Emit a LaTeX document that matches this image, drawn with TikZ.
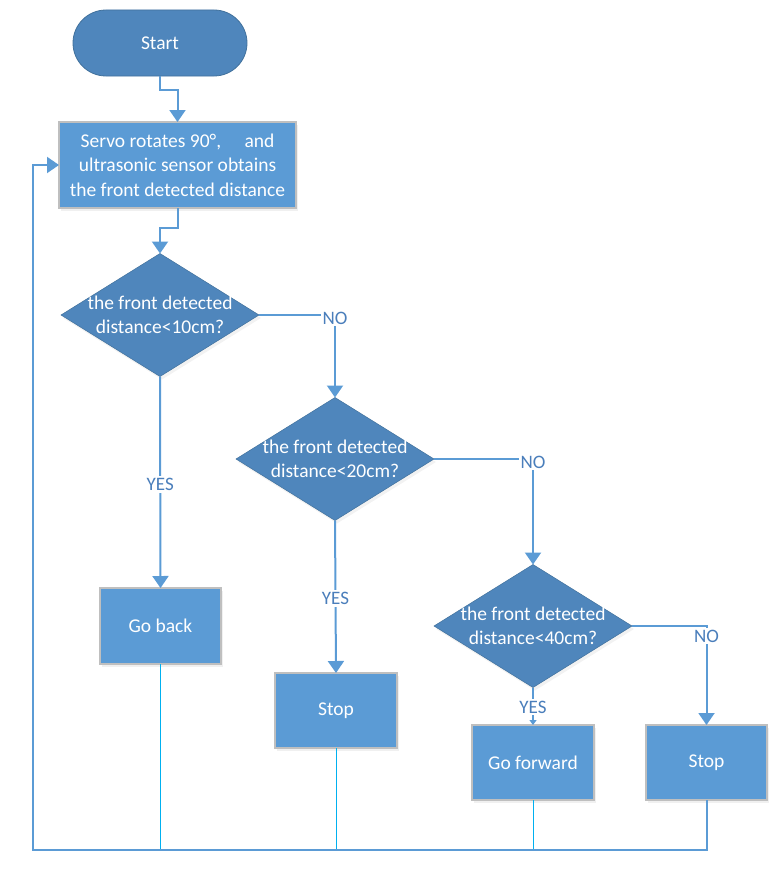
\documentclass[tikz,border=0pt]{standalone}
\usepackage{fontspec}
\setmainfont{Carlito}
\usetikzlibrary{arrows.meta,shapes.geometric,shadows}
\definecolor{boxfill}{HTML}{5B9BD5}
\definecolor{darkfill}{HTML}{4F86BC}
\definecolor{darkline}{HTML}{41719C}
\definecolor{boxline}{HTML}{BFBFBF}
\definecolor{conncol}{HTML}{5B9BD5}
\definecolor{retcol}{HTML}{00B0F0}
\definecolor{lblcol}{HTML}{4A7EBB}
\tikzset{
  every node/.style={font=\fontsize{19.5}{24.5}\selectfont},
  procbox/.style={rectangle, fill=boxfill, draw=boxline, line width=1.6pt, text=white,
    inner sep=0pt, outer sep=0pt, align=center,
    drop shadow={shadow xshift=2pt, shadow yshift=-3pt, opacity=0.12}},
  termbox/.style={rectangle, rounded corners=33pt, fill=darkfill, draw=darkline, line width=0.8pt,
    text=white, minimum width=174pt, minimum height=66pt, inner sep=0pt, outer sep=0pt},
  dia/.style={diamond, fill=darkfill, draw=darkline, line width=0.5pt, inner sep=0pt, outer sep=0pt,
    minimum width=198pt, minimum height=123pt,
    drop shadow={shadow xshift=2pt, shadow yshift=-3pt, opacity=0.10}},
  diatext/.style={text=white, align=center, inner sep=0pt},
  conn/.style={draw=conncol, line width=2pt},
  arr/.style={conn, -{Triangle[length=12pt,width=16pt]}},
  smallarr/.style={conn, -{Triangle[length=5pt,width=7pt]}},
  ret/.style={draw=retcol, line width=1pt},
  lbl/.style={fill=white, text=lblcol, inner sep=2pt, font=\fontsize{19}{22}\selectfont},
}
\begin{document}
\begin{tikzpicture}[x=1pt,y=-1pt]
\useasboundingbox (0,0) rectangle (780,875);

% nodes
\node[termbox] (start) at (160,43) {Start};
\node[procbox, minimum width=237pt, minimum height=86pt] (servo) at (177.5,165)
  {Servo rotates 90°,\hspace{1.2em}and\\ultrasonic sensor obtains\\the front detected distance};
\node[dia] (d1) at (160,315) {};
\node[diatext] at (d1) {the front detected\\distance<10cm?};
\node[dia] (d2) at (335,459) {};
\node[diatext] at (d2) {the front detected\\distance<20cm?};
\node[dia] (d3) at (533,626) {};
\node[diatext] at (d3) {the front detected\\distance<40cm?};
\node[procbox, minimum width=121pt, minimum height=76pt] (gob) at (160.5,626) {Go back};
\node[procbox, minimum width=122pt, minimum height=75pt] (stop1) at (336,710.5) {Stop};
\node[procbox, minimum width=122pt, minimum height=75pt] (gof) at (533,762.5) {Go forward};
\node[procbox, minimum width=121pt, minimum height=75pt] (stop2) at (706.5,762.5) {Stop};

\coordinate (j1) at (160,90);
\coordinate (j2) at (160,228);
\coordinate (cl) at (33,850);

% connectors
\draw[arr] (start.south) -- (j1) -| (servo.north);
\draw[arr] (servo.south) |- (j2) -- (d1.north);
\draw[arr] (d1.east) -| node[lbl, yshift=-3pt]{NO} (d2.north);
\draw[arr] (d1.south) -- node[lbl, pos=0.51]{YES} (gob.north);
\draw[arr] (d2.east) -| node[lbl, yshift=-3pt]{NO} (d3.north);
\draw[arr] (d2.south) -- node[lbl, pos=0.51]{YES} (stop1.north);
\draw[arr] (d3.east) -| node[lbl, yshift=-10pt]{NO} (stop2.north);
\draw[smallarr] (d3.south) -- node[lbl, pos=0.52]{YES} (gof.north);

% return path
\draw[ret] (gob.south) -- (gob.south |- cl);
\draw[ret] (stop1.south) -- (stop1.south |- cl);
\draw[ret] (gof.south) -- (gof.south |- cl);
\draw[arr] (stop2.south) |- (cl) |- (servo.west);
\end{tikzpicture}
\end{document}
